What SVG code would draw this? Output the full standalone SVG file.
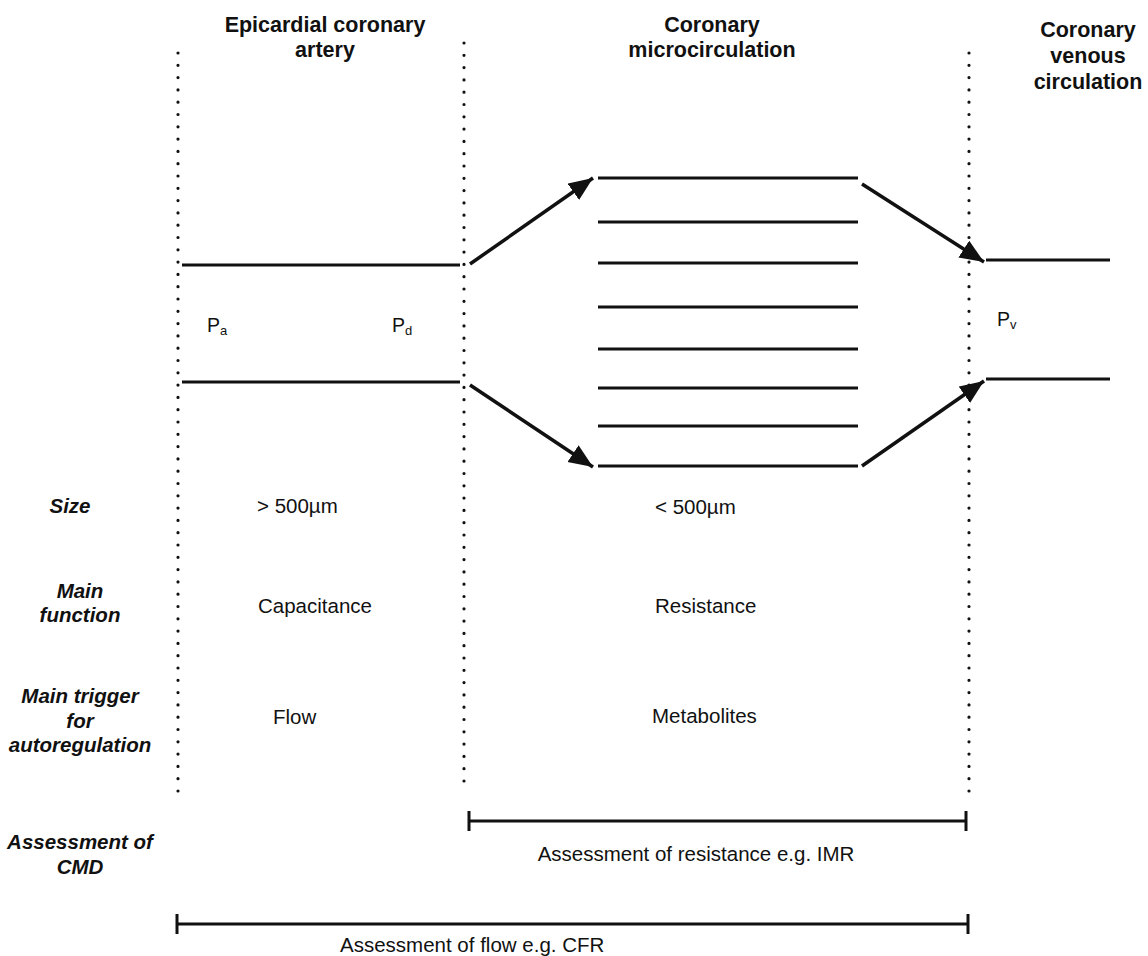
<svg xmlns="http://www.w3.org/2000/svg" width="1148" height="956" viewBox="0 0 1148 956">
<style>
text{font-family:"Liberation Sans",Arial,sans-serif;fill:#111}
.h{font-size:21.5px;font-weight:bold;text-anchor:middle}
.l{font-size:20.5px;font-weight:bold;font-style:italic;text-anchor:middle}
.v{font-size:20.5px}
.p{font-size:19.5px}
.sub{font-size:13px}
.dot{stroke:#111;stroke-width:3.2;stroke-linecap:round;stroke-dasharray:0 12.3;fill:none}
.ln{stroke:#111;stroke-width:3;fill:none}
.ar{stroke:#111;stroke-width:3.5;fill:none}
</style>
<defs>
<marker id="ah" markerUnits="userSpaceOnUse" markerWidth="26" markerHeight="22" refX="24" refY="10" orient="auto">
<path d="M0,0 L24,10 L0,20 z" fill="#111"/>
</marker>
</defs>
<rect width="1148" height="956" fill="#fff"/>
<g id="dividers">
<line class="dot" x1="178" y1="53" x2="178" y2="800"/>
<line class="dot" x1="464" y1="43" x2="464" y2="790"/>
<line class="dot" x1="969" y1="53" x2="969" y2="800"/>
</g>
<g id="headers">
<text class="h" x="325" y="32">Epicardial coronary</text>
<text class="h" x="325" y="57">artery</text>
<text class="h" x="712" y="32">Coronary</text>
<text class="h" x="712" y="57">microcirculation</text>
<text class="h" x="1088" y="37">Coronary</text>
<text class="h" x="1088" y="63">venous</text>
<text class="h" x="1088" y="89">circulation</text>
</g>
<g id="artery">
<line class="ln" x1="182" y1="265" x2="460" y2="265"/>
<line class="ln" x1="182" y1="382" x2="460" y2="382"/>
<text class="p" x="207" y="332">P<tspan class="sub" dy="3">a</tspan></text>
<text class="p" x="392" y="332">P<tspan class="sub" dy="3">d</tspan></text>
</g>
<g id="microcirculation">
<line class="ln" x1="598" y1="178" x2="858" y2="178"/>
<line class="ln" x1="598" y1="222" x2="858" y2="222"/>
<line class="ln" x1="598" y1="263" x2="858" y2="263"/>
<line class="ln" x1="598" y1="307" x2="858" y2="307"/>
<line class="ln" x1="598" y1="349" x2="858" y2="349"/>
<line class="ln" x1="598" y1="388" x2="858" y2="388"/>
<line class="ln" x1="598" y1="426" x2="858" y2="426"/>
<line class="ln" x1="598" y1="466" x2="858" y2="466"/>
</g>
<g id="venous">
<line class="ln" x1="986" y1="260" x2="1110" y2="260"/>
<line class="ln" x1="986" y1="379" x2="1110" y2="379"/>
<text class="p" x="997" y="326">P<tspan class="sub" dy="3">v</tspan></text>
</g>
<g id="connectors">
<line class="ar" x1="470" y1="264" x2="593" y2="178" marker-end="url(#ah)"/>
<line class="ar" x1="470" y1="385" x2="593" y2="467" marker-end="url(#ah)"/>
<line class="ar" x1="862" y1="184" x2="984" y2="262" marker-end="url(#ah)"/>
<line class="ar" x1="862" y1="466" x2="984" y2="381" marker-end="url(#ah)"/>
</g>
<g id="row-labels">
<text class="l" x="70" y="513">Size</text>
<text class="l" x="80" y="598">Main</text>
<text class="l" x="80" y="622">function</text>
<text class="l" x="80" y="703">Main trigger</text>
<text class="l" x="80" y="728">for</text>
<text class="l" x="80" y="752">autoregulation</text>
<text class="l" x="80" y="849">Assessment of</text>
<text class="l" x="80" y="874">CMD</text>
</g>
<g id="values">
<text class="v" x="257" y="513">&gt; 500µm</text>
<text class="v" x="258" y="613">Capacitance</text>
<text class="v" x="273" y="724">Flow</text>
<text class="v" x="655" y="514">&lt; 500µm</text>
<text class="v" x="655" y="613">Resistance</text>
<text class="v" x="652" y="723">Metabolites</text>
</g>
<g id="assessments">
<line class="ln" x1="469" y1="821" x2="966" y2="821"/>
<line class="ln" x1="469" y1="811" x2="469" y2="831"/>
<line class="ln" x1="966" y1="811" x2="966" y2="831"/>
<text class="v" x="696" y="861" text-anchor="middle">Assessment of resistance e.g. IMR</text>
<line class="ln" x1="177" y1="924" x2="968" y2="924"/>
<line class="ln" x1="177" y1="914" x2="177" y2="934"/>
<line class="ln" x1="968" y1="914" x2="968" y2="934"/>
<text class="v" x="340" y="952">Assessment of flow e.g. CFR</text>
</g>
</svg>
